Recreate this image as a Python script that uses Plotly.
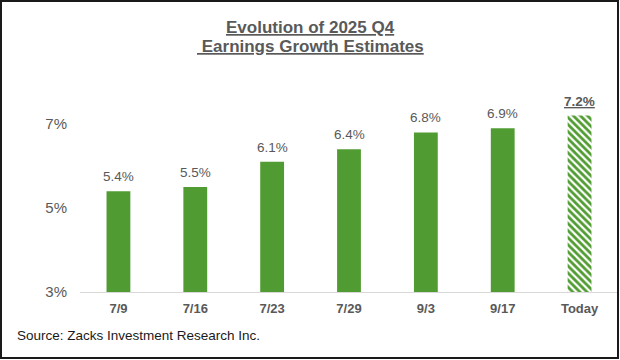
import plotly.graph_objects as go

categories = ["7/9", "7/16", "7/23", "7/29", "9/3", "9/17", "Today"]
values = [5.4, 5.5, 6.1, 6.4, 6.8, 6.9, 7.2]
labels = ["5.4%", "5.5%", "6.1%", "6.4%", "6.8%", "6.9%", "7.2%"]
ytick_vals = [3, 5, 7]
ytick_text = ["3%", "5%", "7%"]
title_lines = ["Evolution of 2025 Q4", " Earnings Growth Estimates"]
source_text = "Source: Zacks Investment Research Inc."

GREEN = "#519c32"
GRAY = "#595959"
FONT = "Arial, Liberation Sans, sans-serif"
W, H = 620, 360
ML, MR, MT, MB = 80, 2, 82, 68
PW, PH = W - ML - MR, H - MT - MB

def px_x(p):
    return (p - ML) / PW

def px_y(p):
    return (H - MB - p) / PH

fig = go.Figure()
fig.add_trace(go.Bar(
    x=categories[:-1], y=values[:-1], marker=dict(color=GREEN, line=dict(width=0)),
    hoverinfo="skip", showlegend=False,
))
fig.add_trace(go.Bar(
    x=categories[-1:], y=values[-1:],
    marker=dict(color="white", line=dict(width=0),
                pattern=dict(shape="\\", fgcolor=GREEN, fgopacity=1, bgcolor="white",
                             size=5, solidity=0.55)),
    hoverinfo="skip", showlegend=False,
))

for i, (c, v, t) in enumerate(zip(categories, values, labels)):
    last = i == len(categories) - 1
    fig.add_annotation(
        x=c, y=v, xref="x", yref="y", yanchor="bottom", yshift=5,
        text=f"<b><u>{t}</u></b>" if last else t, showarrow=False,
        font=dict(family=FONT, size=13.5, color=GRAY),
    )

for line, ypx in zip(title_lines, [27, 47]):
    txt = line.replace(" ", "&nbsp;", 1) if line.startswith(" ") else line
    fig.add_annotation(
        x=px_x(310), y=px_y(ypx), xref="paper", yref="paper",
        xanchor="center", yanchor="middle", showarrow=False,
        text=f"<b><u>{txt}</u></b>",
        font=dict(family=FONT, size=17, color=GRAY),
    )

fig.add_annotation(
    x=px_x(15), y=px_y(335), xref="paper", yref="paper",
    xanchor="left", yanchor="middle", showarrow=False, text=source_text,
    font=dict(family=FONT, size=13.5, color="#1a1a1a"),
)

fig.add_shape(type="rect", xref="paper", yref="paper",
              x0=px_x(1), x1=px_x(618), y0=px_y(1), y1=px_y(358),
              line=dict(color="#1a1a1a", width=2), fillcolor="rgba(0,0,0,0)", layer="above")

fig.update_layout(
    width=W, height=H, margin=dict(l=ML, r=MR, t=MT, b=MB, pad=0),
    paper_bgcolor="white", plot_bgcolor="white", bargap=0.69,
    font=dict(family=FONT, color=GRAY),
    xaxis=dict(showgrid=False, showline=True, linecolor="#d9d9d9", linewidth=1,
               tickfont=dict(size=13, color=GRAY, family=FONT),
               tickprefix="<b>", ticksuffix="</b>",
               ticks="", ticklabelstandoff=4, fixedrange=True),
    yaxis=dict(range=[3, 8], tickvals=ytick_vals, ticktext=ytick_text, showgrid=False,
               zeroline=False, showline=False, ticks="", ticklabelstandoff=12,
               tickfont=dict(size=15, color=GRAY), fixedrange=True),
)

fig.write_html("out.html", config={"displayModeBar": False},
               post_script="document.body.style.margin='0';document.body.style.overflow='hidden';")
